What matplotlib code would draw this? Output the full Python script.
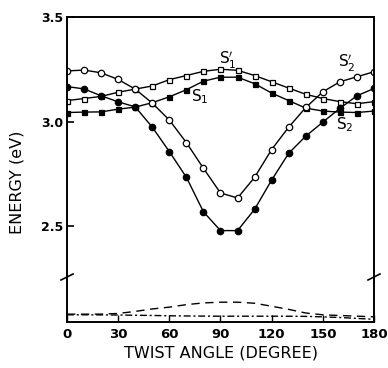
import numpy as np
import matplotlib
matplotlib.use('Agg')
import matplotlib.pyplot as plt
from matplotlib.lines import Line2D

# twist angle (degree), one point every 10 degrees
angle = np.arange(0, 190, 10)

# excited state energies (eV)
s1p = [3.10, 3.11, 3.12, 3.14, 3.155, 3.17, 3.20, 3.22, 3.24, 3.25, 3.245,
       3.22, 3.19, 3.16, 3.13, 3.11, 3.095, 3.085, 3.095]
s1 = [3.043, 3.045, 3.046, 3.059, 3.069, 3.09, 3.118, 3.152, 3.193, 3.212, 3.212,
      3.181, 3.136, 3.10, 3.064, 3.05, 3.045, 3.043, 3.05]
s2p = [3.242, 3.246, 3.233, 3.201, 3.155, 3.088, 3.007, 2.899, 2.776, 2.658, 2.634,
       2.733, 2.866, 2.973, 3.067, 3.142, 3.19, 3.214, 3.238]
s2 = [3.167, 3.156, 3.123, 3.094, 3.07, 2.973, 2.856, 2.733, 2.568, 2.478, 2.478,
      2.58, 2.72, 2.848, 2.93, 2.997, 3.063, 3.123, 3.158]

# lower (broken) panel, relative units
low_dash = [0.174, 0.174, 0.175, 0.19, 0.235, 0.29, 0.33, 0.386, 0.424, 0.44, 0.44,
            0.417, 0.35, 0.28, 0.20, 0.16, 0.144, 0.13, 0.114]
low_dashdot = [0.16, 0.16, 0.158, 0.155, 0.15, 0.145, 0.138, 0.134, 0.131, 0.129, 0.129,
               0.129, 0.129, 0.128, 0.125, 0.114, 0.10, 0.08, 0.06]

# state labels: (text, angle, energy)
labels = [("$\\mathsf{S_1'}$", 94, 3.29),
          ("$\\mathsf{S_1}$", 78, 3.12),
          ("$\\mathsf{S_2'}$", 164, 3.28),
          ("$\\mathsf{S_2}$", 163, 2.985)]

W, H = 388, 368
fig = plt.figure(figsize=(W / 100, H / 100), dpi=100)

x0, x1 = 67, 374
ytop, ybrk, ybot = 17, 277, 322
ax = fig.add_axes([x0 / W, 1 - ybrk / H, (x1 - x0) / W, (ybrk - ytop) / H])
axl = fig.add_axes([x0 / W, 1 - ybot / H, (x1 - x0) / W, (ybot - ybrk) / H])

lw = 1.0
ax.plot(angle, s1p, '-s', color='black', lw=lw, ms=3.6, mfc='white', mew=0.9)
ax.plot(angle, s1, '-s', color='black', lw=lw, ms=3.6, mfc='black', mew=0.9)
ax.plot(angle, s2p, '-o', color='black', lw=lw, ms=4.6, mfc='white', mew=0.9)
ax.plot(angle, s2, '-o', color='black', lw=lw, ms=4.6, mfc='black', mew=0.9)

ax.set_xlim(0, 180)
ax.set_ylim(2.256, 3.5)
ax.set_yticks([2.5, 3.0, 3.5])
ax.set_yticklabels(['2.5', '3.0', '3.5'], fontsize=9, fontweight='bold')
ax.tick_params(axis='y', direction='in', length=5, width=1.2, pad=3)
ax.tick_params(axis='x', bottom=False, labelbottom=False)
ax.spines['bottom'].set_visible(False)
for s in ['left', 'right', 'top']:
    ax.spines[s].set_linewidth(1.4)

for txt, xa, ya in labels:
    ax.text(xa, ya, txt, fontsize=11, ha='center', va='center')

axl.plot(angle, low_dash, color='black', lw=1.0, ls=(0, (6, 4)))
axl.plot(angle, low_dashdot, color='black', lw=1.0, ls=(0, (5, 2, 1.5, 2)))
axl.set_xlim(0, 180)
axl.set_ylim(0, 1)
axl.set_yticks([])
axl.set_xticks(range(0, 181, 30))
axl.set_xticklabels([str(v) for v in range(0, 181, 30)], fontsize=9.5, fontweight='bold')
axl.tick_params(axis='x', direction='in', length=5, width=1.0, pad=4)
axl.spines['top'].set_visible(False)
for s in ['left', 'right', 'bottom']:
    axl.spines[s].set_linewidth(1.4)

# break marks on both vertical spines
for xp in (x0, x1):
    fig.add_artist(Line2D([(xp - 6) / W, (xp + 6) / W],
                          [1 - (ybrk + 3) / H, 1 - (ybrk - 3) / H],
                          color='black', lw=1.2))

fig.text(17 / W, 1 - 182 / H, 'ENERGY (eV)', rotation=90, fontsize=11.5,
         ha='center', va='center')
fig.text((x0 + x1) / 2 / W, 1 - 353 / H, 'TWIST ANGLE (DEGREE)', fontsize=11.5,
         ha='center', va='center')

fig.savefig('out.png', dpi=100)
